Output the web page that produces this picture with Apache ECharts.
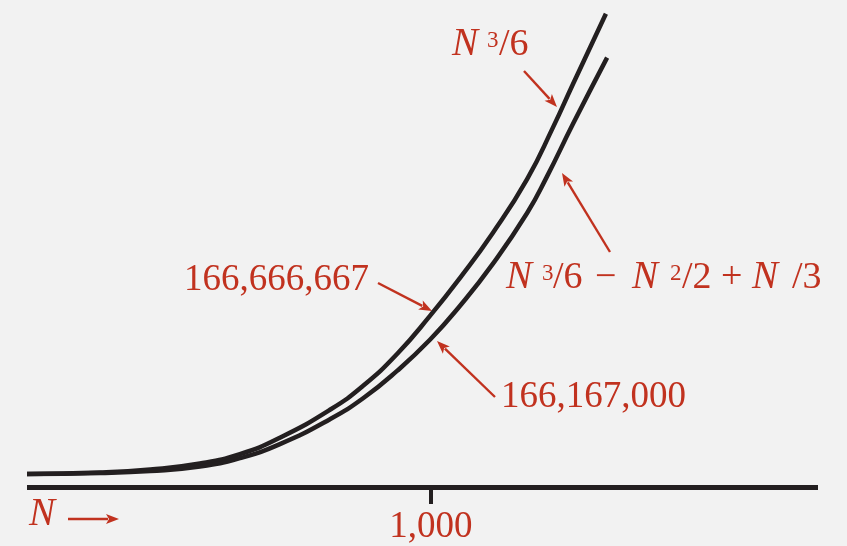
<!DOCTYPE html>
<html>
<head>
<meta charset="utf-8">
<script src="https://cdn.jsdelivr.net/npm/echarts@6/dist/echarts.min.js"></script>
<style>
  html, body { margin: 0; padding: 0; background: #f2f2f2; }
  #shape { width: 847px; height: 546px; }
</style>
</head>
<body>
<div id="shape"></div>
<script>
// values (N, millions)
var upperN   = [0, 181, 305, 428, 527, 626, 752, 832, 916, 998, 1072, 1153, 1238, 1302, 1351, 1433];
var upperVal = [12.4, 13.8, 16.7, 22.4, 31.4, 47.1, 74.3, 96.7, 127.1, 163.8, 200, 242.9, 294.3, 343.8, 384.8, 452.4];
var lowerN   = [0, 181, 305, 428, 527, 626, 750, 832, 916, 998, 1072, 1153, 1238, 1287, 1351, 1436];
var lowerVal = [12.4, 13.3, 15.2, 19.5, 27.6, 41.0, 64.8, 84.8, 111.0, 141.0, 173.3, 213.3, 261.9, 296.7, 346.7, 410.5];
var tickValues = [1000];

var red = '#c1321f';
var ink = '#231f20';
var serif = '"Liberation Serif", "DejaVu Serif", serif';

function pairs(xs, ys) {
  var out = [];
  for (var i = 0; i < xs.length; i++) out.push([xs[i], ys[i]]);
  return out;
}

// text piece, y = baseline
function txt(x, y, s, size, italic) {
  return {
    type: 'text', left: x, top: y - size * 0.9, silent: true,
    style: {
      text: s, fill: red, fontSize: size, fontFamily: serif,
      fontStyle: italic ? 'italic' : 'normal',
      textVerticalAlign: 'top'
    }
  };
}

function arrow(x1, y1, x2, y2) {
  var dx = x2 - x1, dy = y2 - y1;
  var len = Math.sqrt(dx * dx + dy * dy);
  var ux = dx / len, uy = dy / len;
  var hl = 13, hw = 5;
  var bx = x2 - ux * hl, by = y2 - uy * hl;
  return [
    { type: 'line', silent: true,
      shape: { x1: x1, y1: y1, x2: bx + ux * 2, y2: by + uy * 2 },
      style: { stroke: red, lineWidth: 2.4 } },
    { type: 'polygon', silent: true,
      shape: { points: [[x2, y2], [bx - uy * hw, by + ux * hw], [bx + ux * 3, by + uy * 3], [bx + uy * hw, by - ux * hw]] },
      style: { fill: red } }
  ];
}

var graphics = [];
// N^3/6
graphics.push(txt(452, 60, 'N', 39, true));
graphics.push(txt(487, 50, '3', 23, false));
graphics.push(txt(499, 60, '/6', 38, false));
// N^3/6 - N^2/2 + N/3
graphics.push(txt(506, 293, 'N', 39, true));
graphics.push(txt(542, 283, '3', 23, false));
graphics.push(txt(553, 293, '/6', 38, false));
graphics.push(txt(595, 293, '\u2212', 38, false));
graphics.push(txt(632, 293, 'N', 39, true));
graphics.push(txt(670, 283, '2', 23, false));
graphics.push(txt(682, 293, '/2', 38, false));
graphics.push(txt(721, 293, '+', 38, false));
graphics.push(txt(752, 293, 'N', 39, true));
graphics.push(txt(792, 293, '/3', 38, false));
// values
graphics.push(txt(184, 295, '166,666,667', 37, false));
graphics.push(txt(501, 412, '166,167,000', 37, false));
// N ->
graphics.push(txt(29, 530, 'N', 39, true));

graphics = graphics
  .concat(arrow(524, 71, 557, 107))
  .concat(arrow(378, 283, 432, 311))
  .concat(arrow(495, 397, 437, 341))
  .concat(arrow(610, 252, 562, 173))
  .concat(arrow(68, 519, 119, 519));

var chart = echarts.init(document.getElementById('shape'));
chart.setOption({
  backgroundColor: '#f2f2f2',
  animation: false,
  grid: { left: 27, width: 791, top: 10, height: 479 },
  xAxis: {
    type: 'value', min: 0, max: 1958,
    splitLine: { show: false },
    axisLine: { show: true, onZero: false, lineStyle: { color: ink, width: 5, cap: 'butt' } },
    axisTick: { show: true, length: 17, customValues: tickValues, lineStyle: { color: ink, width: 4 } },
    axisLabel: {
      customValues: tickValues, margin: 22, color: red, fontSize: 37, fontFamily: serif,
      formatter: function (v) { return v.toLocaleString('en-US'); }
    }
  },
  yAxis: { type: 'value', min: 0, max: 456, show: false },
  series: [
    { type: 'line', data: pairs(upperN, upperVal), smooth: 0.5, showSymbol: false,
      lineStyle: { color: ink, width: 4.5, cap: 'butt' } },
    { type: 'line', data: pairs(lowerN, lowerVal), smooth: 0.5, showSymbol: false,
      lineStyle: { color: ink, width: 4.5, cap: 'butt' } }
  ],
  graphic: graphics
});
</script>
</body>
</html>
